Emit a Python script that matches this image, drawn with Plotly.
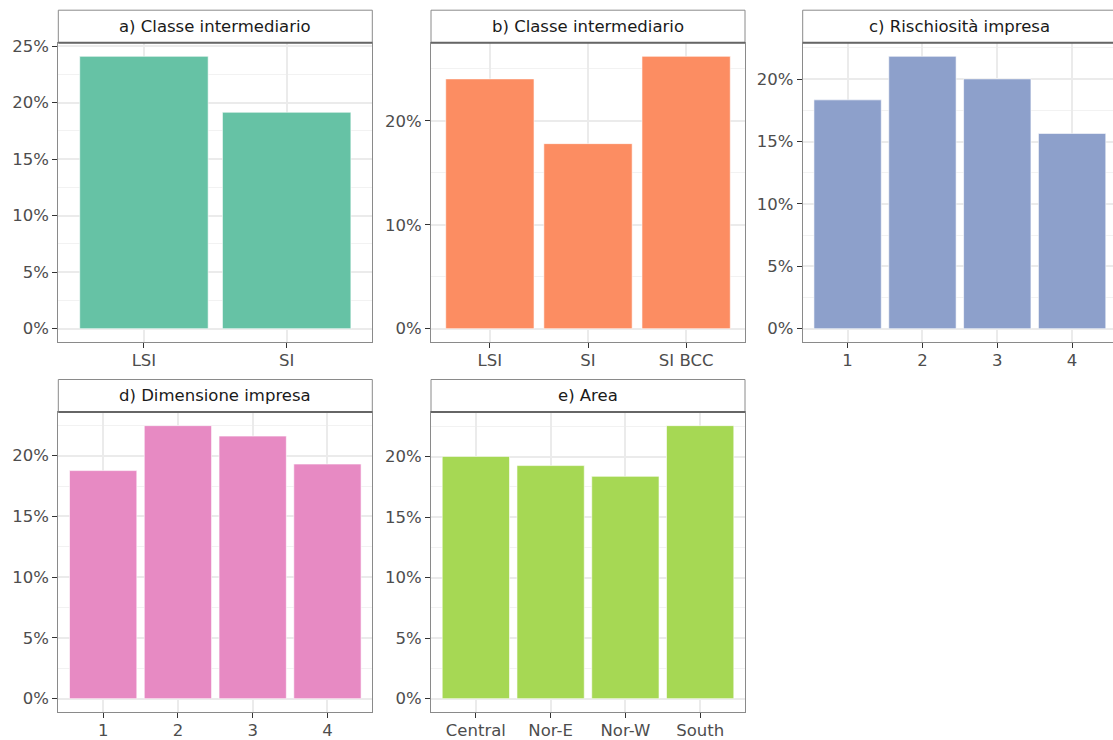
import plotly.graph_objects as go

W, H = 1113, 740

# ---- data ----
cat_a = ["LSI", "SI"]
val_a = [0.241, 0.1915]
cat_b = ["LSI", "SI", "SI BCC"]
val_b = [0.2403, 0.178, 0.262]
cat_c = ["1", "2", "3", "4"]
val_c = [0.1834, 0.2183, 0.2002, 0.1565]
cat_d = ["1", "2", "3", "4"]
val_d = [0.1877, 0.2247, 0.2161, 0.1931]
cat_e = ["Central", "Nor-E", "Nor-W", "South"]
val_e = [0.2002, 0.1926, 0.1837, 0.2256]

titles = ["a) Classe intermediario", "b) Classe intermediario", "c) Rischiosità impresa",
          "d) Dimensione impresa", "e) Area"]
colors = ["#66C2A5", "#FC8D62", "#8DA0CB", "#E78AC3", "#A6D854"]
dticks = [0.05, 0.10, 0.05, 0.05, 0.05]

panels = [(cat_a, val_a), (cat_b, val_b), (cat_c, val_c), (cat_d, val_d), (cat_e, val_e)]

# pixel geometry (left, right, top, bottom) of plot areas
col_px = [(58.3, 372.3), (431.0, 745.0), (802.7, 1117.0)]
row_px = [(42.7, 342.3), (412.0, 712.3)]
strip_h = 32.5
pos = [(0, 0), (0, 1), (0, 2), (1, 0), (1, 1)]

fig = go.Figure()
layout = dict(
    width=W, height=H, margin=dict(l=0, r=0, t=0, b=0),
    paper_bgcolor="white", plot_bgcolor="white", showlegend=False,
    font=dict(family="DejaVu Sans", size=16, color="#4d4d4d"),
    bargap=0.1,
)
shapes = []
annotations = []
GRID = "#ebebeb"
BORDER = "#8a8a8a"

for i, ((cats, vals), (r, c)) in enumerate(zip(panels, pos)):
    xa = "x" if i == 0 else f"x{i+1}"
    ya = "y" if i == 0 else f"y{i+1}"
    xkey = "xaxis" if i == 0 else f"xaxis{i+1}"
    ykey = "yaxis" if i == 0 else f"yaxis{i+1}"
    fig.add_trace(go.Bar(x=cats, y=vals, xaxis=xa, yaxis=ya, width=0.9,
                         marker=dict(color=colors[i], line=dict(color="white", width=0.6)),
                         hoverinfo="x+y"))
    lpx, rpx_true = col_px[c]
    rpx = min(rpx_true, W)
    cropped = rpx_true > W
    tpx, bpx = row_px[r]
    n = len(cats)
    unit = (rpx_true - lpx) / (n + 0.2)
    xr_right = n - 0.4 - (rpx_true - rpx) / unit
    vmax = max(vals)
    layout[xkey] = dict(
        domain=[lpx / W, rpx / W], anchor=ya, type="category",
        range=[-0.6, xr_right], showgrid=True, gridcolor=GRID, gridwidth=1.5,
        ticks="outside", ticklen=5, tickwidth=1, tickcolor="#333333",
        showline=True, linecolor=BORDER, linewidth=1, mirror=True,
        tickfont=dict(size=16.5, color="#4d4d4d"), zeroline=False, fixedrange=True,
        automargin=False, ticklabelstandoff=-2,
    )
    layout[ykey] = dict(
        domain=[1 - bpx / H, 1 - tpx / H], anchor=xa,
        range=[-0.05 * vmax, 1.05 * vmax], tickformat=".0%", dtick=dticks[i], tick0=0,
        showgrid=True, gridcolor=GRID, gridwidth=1.5,
        minor=dict(dtick=dticks[i] / 2, tick0=0, showgrid=True, gridcolor="#f2f2f2", gridwidth=0.8),
        ticks="outside", ticklen=5, tickwidth=1, tickcolor="#333333",
        showline=True, linecolor=BORDER, linewidth=1, mirror=(not cropped),
        tickfont=dict(size=16.5, color="#4d4d4d"), zeroline=False, fixedrange=True,
        automargin=False,
    )
    # strip
    s_top = tpx - strip_h
    shapes.append(dict(type="rect", xref="paper", yref="paper",
                       x0=lpx / W, x1=(rpx_true / W) if not cropped else 1.02,
                       y0=1 - tpx / H, y1=1 - s_top / H,
                       fillcolor="white", line=dict(color=BORDER, width=1), layer="above"))
    shapes.append(dict(type="line", xref="paper", yref="paper",
                       x0=lpx / W, x1=rpx / W,
                       y0=1 - tpx / H, y1=1 - tpx / H,
                       line=dict(color="#666666", width=2), layer="above"))
    annotations.append(dict(text=titles[i], xref="paper", yref="paper",
                            x=(lpx + rpx_true) / 2 / W, y=1 - (s_top + strip_h / 2) / H,
                            xanchor="center", yanchor="middle", showarrow=False,
                            font=dict(size=16.5, color="#1a1a1a")))

layout["shapes"] = shapes
layout["annotations"] = annotations
fig.update_layout(**layout)
fig.write_html("out.html", config={"displayModeBar": False},
               post_script="document.body.style.margin='0';document.body.style.overflow='hidden';")
